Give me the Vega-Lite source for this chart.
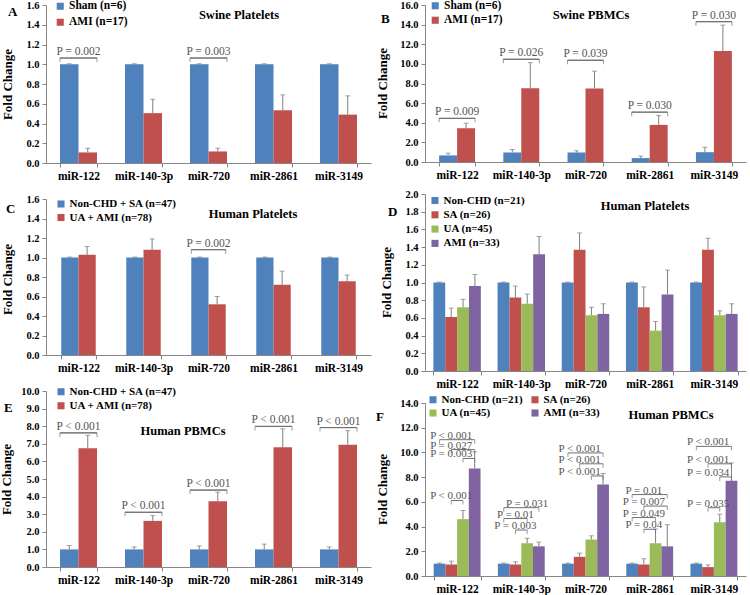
{
  "$schema": "https://vega.github.io/schema/vega-lite/v6.json",
  "padding": {"left": 0, "top": 0, "right": 2, "bottom": 0},
  "autosize": {"type": "pad"},
  "spacing": 5,
  "bounds": "full",
  "resolve": {"scale": {"color": "independent", "xOffset": "independent", "x": "independent", "y": "independent"}, "legend": {"color": "independent"}},
  "datasets": {
    "A": [
      {"cat": "miR-122", "grp": "Sham (n=6)", "v": 1.0, "u": 1.005}, {"cat": "miR-122", "grp": "AMI (n=17)", "v": 0.107, "u": 0.15},
      {"cat": "miR-140-3p", "grp": "Sham (n=6)", "v": 1.0, "u": 1.005}, {"cat": "miR-140-3p", "grp": "AMI (n=17)", "v": 0.505, "u": 0.645},
      {"cat": "miR-720", "grp": "Sham (n=6)", "v": 1.0, "u": 1.005}, {"cat": "miR-720", "grp": "AMI (n=17)", "v": 0.117, "u": 0.15},
      {"cat": "miR-2861", "grp": "Sham (n=6)", "v": 1.0, "u": 1.005}, {"cat": "miR-2861", "grp": "AMI (n=17)", "v": 0.535, "u": 0.69},
      {"cat": "miR-3149", "grp": "Sham (n=6)", "v": 1.0, "u": 1.005}, {"cat": "miR-3149", "grp": "AMI (n=17)", "v": 0.49, "u": 0.68}
    ],
    "Ab": [
      {"cat": "miR-122", "top": 1.063, "label": "P = 0.002"},
      {"cat": "miR-720", "top": 1.063, "label": "P = 0.003"}
    ],
    "B": [
      {"cat": "miR-122", "grp": "Sham (n=6)", "v": 0.67, "u": 0.9}, {"cat": "miR-122", "grp": "AMI (n=17)", "v": 3.44, "u": 3.95},
      {"cat": "miR-140-3p", "grp": "Sham (n=6)", "v": 0.97, "u": 1.27}, {"cat": "miR-140-3p", "grp": "AMI (n=17)", "v": 7.52, "u": 10.13},
      {"cat": "miR-720", "grp": "Sham (n=6)", "v": 0.97, "u": 1.14}, {"cat": "miR-720", "grp": "AMI (n=17)", "v": 7.49, "u": 9.26},
      {"cat": "miR-2861", "grp": "Sham (n=6)", "v": 0.4, "u": 0.6}, {"cat": "miR-2861", "grp": "AMI (n=17)", "v": 3.78, "u": 4.75},
      {"cat": "miR-3149", "grp": "Sham (n=6)", "v": 1.0, "u": 1.5}, {"cat": "miR-3149", "grp": "AMI (n=17)", "v": 11.3, "u": 13.95}
    ],
    "Bb": [
      {"cat": "miR-122", "top": 4.45, "label": "P = 0.009"},
      {"cat": "miR-140-3p", "top": 10.47, "label": "P = 0.026"},
      {"cat": "miR-720", "top": 10.37, "label": "P = 0.039"},
      {"cat": "miR-2861", "top": 5.08, "label": "P = 0.030"},
      {"cat": "miR-3149", "top": 14.3, "label": "P = 0.030"}
    ],
    "C": [
      {"cat": "miR-122", "grp": "Non-CHD + SA (n=47)", "v": 1.0, "u": 1.005}, {"cat": "miR-122", "grp": "UA + AMI (n=78)", "v": 1.027, "u": 1.113},
      {"cat": "miR-140-3p", "grp": "Non-CHD + SA (n=47)", "v": 1.0, "u": 1.005}, {"cat": "miR-140-3p", "grp": "UA + AMI (n=78)", "v": 1.079, "u": 1.19},
      {"cat": "miR-720", "grp": "Non-CHD + SA (n=47)", "v": 1.0, "u": 1.005}, {"cat": "miR-720", "grp": "UA + AMI (n=78)", "v": 0.52, "u": 0.6},
      {"cat": "miR-2861", "grp": "Non-CHD + SA (n=47)", "v": 1.0, "u": 1.005}, {"cat": "miR-2861", "grp": "UA + AMI (n=78)", "v": 0.72, "u": 0.86},
      {"cat": "miR-3149", "grp": "Non-CHD + SA (n=47)", "v": 1.0, "u": 1.005}, {"cat": "miR-3149", "grp": "UA + AMI (n=78)", "v": 0.756, "u": 0.82}
    ],
    "Cb": [
      {"cat": "miR-720", "top": 1.08, "label": "P = 0.002"}
    ],
    "D": [
      {"cat": "miR-122", "grp": "Non-CHD (n=21)", "v": 1.0, "u": 1.005}, {"cat": "miR-122", "grp": "SA (n=26)", "v": 0.61, "u": 0.71}, {"cat": "miR-122", "grp": "UA (n=45)", "v": 0.72, "u": 0.81}, {"cat": "miR-122", "grp": "AMI (n=33)", "v": 0.96, "u": 1.09},
      {"cat": "miR-140-3p", "grp": "Non-CHD (n=21)", "v": 1.0, "u": 1.005}, {"cat": "miR-140-3p", "grp": "SA (n=26)", "v": 0.83, "u": 0.96}, {"cat": "miR-140-3p", "grp": "UA (n=45)", "v": 0.76, "u": 0.87}, {"cat": "miR-140-3p", "grp": "AMI (n=33)", "v": 1.32, "u": 1.52},
      {"cat": "miR-720", "grp": "Non-CHD (n=21)", "v": 1.0, "u": 1.005}, {"cat": "miR-720", "grp": "SA (n=26)", "v": 1.37, "u": 1.56}, {"cat": "miR-720", "grp": "UA (n=45)", "v": 0.63, "u": 0.72}, {"cat": "miR-720", "grp": "AMI (n=33)", "v": 0.645, "u": 0.76},
      {"cat": "miR-2861", "grp": "Non-CHD (n=21)", "v": 1.0, "u": 1.005}, {"cat": "miR-2861", "grp": "SA (n=26)", "v": 0.72, "u": 0.95}, {"cat": "miR-2861", "grp": "UA (n=45)", "v": 0.456, "u": 0.56}, {"cat": "miR-2861", "grp": "AMI (n=33)", "v": 0.864, "u": 1.14},
      {"cat": "miR-3149", "grp": "Non-CHD (n=21)", "v": 1.0, "u": 1.005}, {"cat": "miR-3149", "grp": "SA (n=26)", "v": 1.37, "u": 1.5}, {"cat": "miR-3149", "grp": "UA (n=45)", "v": 0.63, "u": 0.68}, {"cat": "miR-3149", "grp": "AMI (n=33)", "v": 0.645, "u": 0.76}
    ],
    "E": [
      {"cat": "miR-122", "grp": "Non-CHD + SA (n=47)", "v": 1.0, "u": 1.22}, {"cat": "miR-122", "grp": "UA + AMI (n=78)", "v": 6.75, "u": 7.48},
      {"cat": "miR-140-3p", "grp": "Non-CHD + SA (n=47)", "v": 1.0, "u": 1.14}, {"cat": "miR-140-3p", "grp": "UA + AMI (n=78)", "v": 2.62, "u": 2.92},
      {"cat": "miR-720", "grp": "Non-CHD + SA (n=47)", "v": 1.0, "u": 1.2}, {"cat": "miR-720", "grp": "UA + AMI (n=78)", "v": 3.73, "u": 4.25},
      {"cat": "miR-2861", "grp": "Non-CHD + SA (n=47)", "v": 1.0, "u": 1.3}, {"cat": "miR-2861", "grp": "UA + AMI (n=78)", "v": 6.8, "u": 7.85},
      {"cat": "miR-3149", "grp": "Non-CHD + SA (n=47)", "v": 1.0, "u": 1.14}, {"cat": "miR-3149", "grp": "UA + AMI (n=78)", "v": 6.95, "u": 7.75}
    ],
    "Eb": [
      {"cat": "miR-122", "top": 7.62, "label": "P < 0.001"},
      {"cat": "miR-140-3p", "top": 3.11, "label": "P < 0.001"},
      {"cat": "miR-720", "top": 4.37, "label": "P < 0.001"},
      {"cat": "miR-2861", "top": 7.99, "label": "P < 0.001"},
      {"cat": "miR-3149", "top": 7.92, "label": "P < 0.001"}
    ],
    "F": [
      {"cat": "miR-122", "grp": "Non-CHD (n=21)", "v": 1.0, "u": 1.05}, {"cat": "miR-122", "grp": "SA (n=26)", "v": 0.93, "u": 1.2}, {"cat": "miR-122", "grp": "UA (n=45)", "v": 4.6, "u": 5.3}, {"cat": "miR-122", "grp": "AMI (n=33)", "v": 8.7, "u": 10.05},
      {"cat": "miR-140-3p", "grp": "Non-CHD (n=21)", "v": 1.0, "u": 1.05}, {"cat": "miR-140-3p", "grp": "SA (n=26)", "v": 0.93, "u": 1.15}, {"cat": "miR-140-3p", "grp": "UA (n=45)", "v": 2.65, "u": 3.05}, {"cat": "miR-140-3p", "grp": "AMI (n=33)", "v": 2.4, "u": 2.75},
      {"cat": "miR-720", "grp": "Non-CHD (n=21)", "v": 1.0, "u": 1.05}, {"cat": "miR-720", "grp": "SA (n=26)", "v": 1.55, "u": 1.85}, {"cat": "miR-720", "grp": "UA (n=45)", "v": 2.95, "u": 3.25}, {"cat": "miR-720", "grp": "AMI (n=33)", "v": 7.4, "u": 8.3},
      {"cat": "miR-2861", "grp": "Non-CHD (n=21)", "v": 1.0, "u": 1.05}, {"cat": "miR-2861", "grp": "SA (n=26)", "v": 0.93, "u": 1.4}, {"cat": "miR-2861", "grp": "UA (n=45)", "v": 2.65, "u": 3.8}, {"cat": "miR-2861", "grp": "AMI (n=33)", "v": 2.4, "u": 4.15},
      {"cat": "miR-3149", "grp": "Non-CHD (n=21)", "v": 1.0, "u": 1.05}, {"cat": "miR-3149", "grp": "SA (n=26)", "v": 0.72, "u": 0.9}, {"cat": "miR-3149", "grp": "UA (n=45)", "v": 4.35, "u": 5.0}, {"cat": "miR-3149", "grp": "AMI (n=33)", "v": 7.7, "u": 9.15}
    ],
    "Fb": [
      {"id": 1, "cat": "miR-122", "g1": "Non-CHD (n=21)", "g2": "AMI (n=33)", "top": 11.03, "label": "P < 0.001", "lg": "SA (n=26)"},
      {"id": 2, "cat": "miR-122", "g1": "SA (n=26)", "g2": "AMI (n=33)", "top": 10.23, "label": "P = 0.027", "lg": "SA (n=26)"},
      {"id": 3, "cat": "miR-122", "g1": "UA (n=45)", "g2": "AMI (n=33)", "top": 9.51, "label": "P = 0.003", "lg": "SA (n=26)"},
      {"id": 4, "cat": "miR-122", "g1": "SA (n=26)", "g2": "UA (n=45)", "top": 6.11, "label": "P < 0.001", "lg": "SA (n=26)"},
      {"id": 5, "cat": "miR-140-3p", "g1": "Non-CHD (n=21)", "g2": "AMI (n=33)", "top": 5.53, "label": "P = 0.031", "lg": "UA (n=45)"},
      {"id": 6, "cat": "miR-140-3p", "g1": "Non-CHD (n=21)", "g2": "UA (n=45)", "top": 4.65, "label": "P = 0.01", "lg": "SA (n=26)"},
      {"id": 7, "cat": "miR-140-3p", "g1": "SA (n=26)", "g2": "UA (n=45)", "top": 3.72, "label": "P = 0.003", "lg": "SA (n=26)"},
      {"id": 8, "cat": "miR-720", "g1": "Non-CHD (n=21)", "g2": "AMI (n=33)", "top": 9.96, "label": "P < 0.001", "lg": "SA (n=26)"},
      {"id": 9, "cat": "miR-720", "g1": "SA (n=26)", "g2": "AMI (n=33)", "top": 9.08, "label": "P < 0.001", "lg": "SA (n=26)"},
      {"id": 10, "cat": "miR-720", "g1": "UA (n=45)", "g2": "AMI (n=33)", "top": 8.1, "label": "P < 0.001", "lg": "SA (n=26)"},
      {"id": 11, "cat": "miR-2861", "g1": "Non-CHD (n=21)", "g2": "AMI (n=33)", "top": 6.59, "label": "P = 0.01", "lg": "SA (n=26)"},
      {"id": 12, "cat": "miR-2861", "g1": "SA (n=26)", "g2": "AMI (n=33)", "top": 5.66, "label": "P = 0.007", "lg": "SA (n=26)"},
      {"id": 13, "cat": "miR-2861", "g1": "Non-CHD (n=21)", "g2": "UA (n=45)", "top": 4.73, "label": "P = 0.049", "lg": "SA (n=26)"},
      {"id": 14, "cat": "miR-2861", "g1": "SA (n=26)", "g2": "UA (n=45)", "top": 3.78, "label": "P = 0.04", "lg": "SA (n=26)"},
      {"id": 15, "cat": "miR-3149", "g1": "Non-CHD (n=21)", "g2": "AMI (n=33)", "top": 10.49, "label": "P < 0.001", "lg": "SA (n=26)"},
      {"id": 16, "cat": "miR-3149", "g1": "SA (n=26)", "g2": "AMI (n=33)", "top": 9.08, "label": "P < 0.001", "lg": "SA (n=26)"},
      {"id": 17, "cat": "miR-3149", "g1": "UA (n=45)", "g2": "AMI (n=33)", "top": 8.02, "label": "P = 0.034", "lg": "SA (n=26)"},
      {"id": 18, "cat": "miR-3149", "g1": "SA (n=26)", "g2": "UA (n=45)", "top": 5.53, "label": "P = 0.035", "lg": "SA (n=26)"}
    ]
  },
  "hconcat": [
    {
      "spacing": 36,
      "bounds": "flush",
      "resolve": {"scale": {"color": "independent", "xOffset": "independent", "x": "independent", "y": "independent"}, "legend": {"color": "independent"}},
      "vconcat": [
        {
          "width": 325, "height": 158,
          "title": {"text": "A", "dx": -38, "dy": 22.5},
          "encoding": {"x": {"field": "cat", "type": "nominal", "title": null, "scale": {"domain": ["miR-122", "miR-140-3p", "miR-720", "miR-2861", "miR-3149"], "paddingInner": 0.43, "paddingOuter": 0.215}, "axis": {"tickBand": "extent"}}},
          "layer": [
            {"data": {"name": "A"}, "mark": {"type": "bar"}, "encoding": {
              "xOffset": {"field": "grp", "type": "nominal", "scale": {"domain": ["Sham (n=6)", "AMI (n=17)"]}},
              "y": {"field": "v", "type": "quantitative", "stack": null, "scale": {"domain": [0, 1.6], "nice": false}, "axis": {"title": "Fold Change", "titleX": -32, "titleY": 79, "values": [0, 0.2, 0.4, 0.6, 0.8, 1.0, 1.2, 1.4, 1.6], "format": ".1f", "labelOverlap": false, "tickCount": 9}},
              "color": {"field": "grp", "type": "nominal", "scale": {"domain": ["Sham (n=6)", "AMI (n=17)"], "range": ["#4F81BD", "#C0504D"]}, "legend": {"title": null, "legendX": 8.5, "legendY": -4.5, "rowPadding": 3}}}},
            {"data": {"name": "A"}, "mark": {"type": "rule", "color": "#7f7f7f"}, "encoding": {
              "xOffset": {"field": "grp", "type": "nominal", "scale": {"domain": ["Sham (n=6)", "AMI (n=17)"]}},
              "y": {"field": "v", "type": "quantitative"}, "y2": {"field": "u"}}},
            {"data": {"name": "A"}, "mark": {"type": "tick", "orient": "horizontal", "size": 5, "thickness": 1, "color": "#7f7f7f"}, "encoding": {
              "xOffset": {"field": "grp", "type": "nominal", "scale": {"domain": ["Sham (n=6)", "AMI (n=17)"]}},
              "y": {"field": "u", "type": "quantitative"}}},
            {"data": {"name": "Ab"}, "mark": {"type": "bar", "fill": null, "stroke": "#707070", "strokeWidth": 1}, "encoding": {
              "y": {"field": "top", "type": "quantitative"}, "y2": {"field": "top"}}},
            {"data": {"name": "Ab"}, "mark": {"type": "tick", "orient": "vertical", "size": 4, "thickness": 1, "yOffset": 2, "color": "#707070"}, "encoding": {
              "x": {"field": "cat", "type": "nominal", "bandPosition": 0, "scale": {"domain": ["miR-122", "miR-140-3p", "miR-720", "miR-2861", "miR-3149"]}},
              "y": {"field": "top", "type": "quantitative"}}},
            {"data": {"name": "Ab"}, "mark": {"type": "tick", "orient": "vertical", "size": 4, "thickness": 1, "yOffset": 2, "color": "#707070"}, "encoding": {
              "x": {"field": "cat", "type": "nominal", "bandPosition": 1, "scale": {"domain": ["miR-122", "miR-140-3p", "miR-720", "miR-2861", "miR-3149"]}},
              "y": {"field": "top", "type": "quantitative"}}},
            {"data": {"name": "Ab"}, "mark": {"type": "text", "dy": -3, "baseline": "alphabetic", "fontSize": 11.5, "color": "#555555", "font": "Liberation Serif"}, "encoding": {
              "y": {"field": "top", "type": "quantitative"}, "text": {"field": "label"}}},
            {"data": {"values": [{"t": "Swine Platelets"}]}, "mark": {"type": "text", "dx": 30.5, "baseline": "middle", "fontSize": 12.5, "fontWeight": "bold", "font": "Liberation Serif", "color": "#000"}, "encoding": {
              "x": {"datum": "miR-720", "type": "nominal"}, "y": {"datum": 1.5, "type": "quantitative"}, "text": {"field": "t"}}}
          ]
        },
        {
          "width": 325, "height": 156,
          "title": {"text": "C", "dx": -40, "dy": 26},
          "encoding": {"x": {"field": "cat", "type": "nominal", "title": null, "scale": {"domain": ["miR-122", "miR-140-3p", "miR-720", "miR-2861", "miR-3149"], "paddingInner": 0.47, "paddingOuter": 0.235}, "axis": {"tickBand": "extent"}}},
          "layer": [
            {"data": {"name": "C"}, "mark": {"type": "bar"}, "encoding": {
              "xOffset": {"field": "grp", "type": "nominal", "scale": {"domain": ["Non-CHD + SA (n=47)", "UA + AMI (n=78)"]}},
              "y": {"field": "v", "type": "quantitative", "stack": null, "scale": {"domain": [0, 1.6], "nice": false}, "axis": {"title": "Fold Change", "titleX": -32, "titleY": 80, "values": [0, 0.2, 0.4, 0.6, 0.8, 1.0, 1.2, 1.4, 1.6], "format": ".1f", "labelOverlap": false, "tickCount": 9}},
              "color": {"field": "grp", "type": "nominal", "scale": {"domain": ["Non-CHD + SA (n=47)", "UA + AMI (n=78)"], "range": ["#4F81BD", "#C0504D"]}, "legend": {"title": null, "legendX": 9.5, "legendY": -0.5, "rowPadding": 1.5, "labelFontSize": 11}}}},
            {"data": {"name": "C"}, "mark": {"type": "rule", "color": "#7f7f7f"}, "encoding": {
              "xOffset": {"field": "grp", "type": "nominal", "scale": {"domain": ["Non-CHD + SA (n=47)", "UA + AMI (n=78)"]}},
              "y": {"field": "v", "type": "quantitative"}, "y2": {"field": "u"}}},
            {"data": {"name": "C"}, "mark": {"type": "tick", "orient": "horizontal", "size": 5, "thickness": 1, "color": "#7f7f7f"}, "encoding": {
              "xOffset": {"field": "grp", "type": "nominal", "scale": {"domain": ["Non-CHD + SA (n=47)", "UA + AMI (n=78)"]}},
              "y": {"field": "u", "type": "quantitative"}}},
            {"data": {"name": "Cb"}, "mark": {"type": "bar", "fill": null, "stroke": "#707070", "strokeWidth": 1}, "encoding": {
              "y": {"field": "top", "type": "quantitative"}, "y2": {"field": "top"}}},
            {"data": {"name": "Cb"}, "mark": {"type": "tick", "orient": "vertical", "size": 4, "thickness": 1, "yOffset": 2, "color": "#707070"}, "encoding": {
              "x": {"field": "cat", "type": "nominal", "bandPosition": 0, "scale": {"domain": ["miR-122", "miR-140-3p", "miR-720", "miR-2861", "miR-3149"]}},
              "y": {"field": "top", "type": "quantitative"}}},
            {"data": {"name": "Cb"}, "mark": {"type": "tick", "orient": "vertical", "size": 4, "thickness": 1, "yOffset": 2, "color": "#707070"}, "encoding": {
              "x": {"field": "cat", "type": "nominal", "bandPosition": 1, "scale": {"domain": ["miR-122", "miR-140-3p", "miR-720", "miR-2861", "miR-3149"]}},
              "y": {"field": "top", "type": "quantitative"}}},
            {"data": {"name": "Cb"}, "mark": {"type": "text", "dy": -3, "baseline": "alphabetic", "fontSize": 11.5, "color": "#555555", "font": "Liberation Serif"}, "encoding": {
              "y": {"field": "top", "type": "quantitative"}, "text": {"field": "label"}}},
            {"data": {"values": [{"t": "Human Platelets"}]}, "mark": {"type": "text", "dx": 44.5, "baseline": "middle", "fontSize": 12.5, "fontWeight": "bold", "font": "Liberation Serif", "color": "#000"}, "encoding": {
              "x": {"datum": "miR-720", "type": "nominal"}, "y": {"datum": 1.45, "type": "quantitative"}, "text": {"field": "t"}}}
          ]
        },
        {
          "width": 325, "height": 176,
          "title": {"text": "E", "dx": -42, "dy": 33},
          "encoding": {"x": {"field": "cat", "type": "nominal", "title": null, "scale": {"domain": ["miR-122", "miR-140-3p", "miR-720", "miR-2861", "miR-3149"], "paddingInner": 0.43, "paddingOuter": 0.215}, "axis": {"tickBand": "extent"}}},
          "layer": [
            {"data": {"name": "E"}, "mark": {"type": "bar"}, "encoding": {
              "xOffset": {"field": "grp", "type": "nominal", "scale": {"domain": ["Non-CHD + SA (n=47)", "UA + AMI (n=78)"]}},
              "y": {"field": "v", "type": "quantitative", "stack": null, "scale": {"domain": [0, 10], "nice": false}, "axis": {"title": "Fold Change", "titleX": -33, "titleY": 88, "values": [0, 1, 2, 3, 4, 5, 6, 7, 8, 9, 10], "format": ".1f", "labelOverlap": false, "tickCount": 11}},
              "color": {"field": "grp", "type": "nominal", "scale": {"domain": ["Non-CHD + SA (n=47)", "UA + AMI (n=78)"], "range": ["#4F81BD", "#C0504D"]}, "legend": {"title": null, "legendX": 9.5, "legendY": -4.75, "rowPadding": 2, "labelFontSize": 11}}}},
            {"data": {"name": "E"}, "mark": {"type": "rule", "color": "#7f7f7f"}, "encoding": {
              "xOffset": {"field": "grp", "type": "nominal", "scale": {"domain": ["Non-CHD + SA (n=47)", "UA + AMI (n=78)"]}},
              "y": {"field": "v", "type": "quantitative"}, "y2": {"field": "u"}}},
            {"data": {"name": "E"}, "mark": {"type": "tick", "orient": "horizontal", "size": 5, "thickness": 1, "color": "#7f7f7f"}, "encoding": {
              "xOffset": {"field": "grp", "type": "nominal", "scale": {"domain": ["Non-CHD + SA (n=47)", "UA + AMI (n=78)"]}},
              "y": {"field": "u", "type": "quantitative"}}},
            {"data": {"name": "Eb"}, "mark": {"type": "bar", "fill": null, "stroke": "#707070", "strokeWidth": 1}, "encoding": {
              "y": {"field": "top", "type": "quantitative"}, "y2": {"field": "top"}}},
            {"data": {"name": "Eb"}, "mark": {"type": "tick", "orient": "vertical", "size": 4, "thickness": 1, "yOffset": 2, "color": "#707070"}, "encoding": {
              "x": {"field": "cat", "type": "nominal", "bandPosition": 0, "scale": {"domain": ["miR-122", "miR-140-3p", "miR-720", "miR-2861", "miR-3149"]}},
              "y": {"field": "top", "type": "quantitative"}}},
            {"data": {"name": "Eb"}, "mark": {"type": "tick", "orient": "vertical", "size": 4, "thickness": 1, "yOffset": 2, "color": "#707070"}, "encoding": {
              "x": {"field": "cat", "type": "nominal", "bandPosition": 1, "scale": {"domain": ["miR-122", "miR-140-3p", "miR-720", "miR-2861", "miR-3149"]}},
              "y": {"field": "top", "type": "quantitative"}}},
            {"data": {"name": "Eb"}, "mark": {"type": "text", "dy": -3, "baseline": "alphabetic", "fontSize": 11.5, "color": "#555555", "font": "Liberation Serif"}, "encoding": {
              "y": {"field": "top", "type": "quantitative"}, "text": {"field": "label"}}},
            {"data": {"values": [{"t": "Human PBMCs"}]}, "mark": {"type": "text", "dx": -25.5, "baseline": "middle", "fontSize": 12.5, "fontWeight": "bold", "font": "Liberation Serif", "color": "#000"}, "encoding": {
              "x": {"datum": "miR-720", "type": "nominal"}, "y": {"datum": 7.73, "type": "quantitative"}, "text": {"field": "t"}}}
          ]
        }
      ]
    },
    {
      "spacing": 32,
      "bounds": "flush",
      "resolve": {"scale": {"color": "independent", "xOffset": "independent", "x": "independent", "y": "independent"}, "legend": {"color": "independent"}},
      "vconcat": [
        {
          "width": 321, "height": 157,
          "title": {"text": "B", "dx": -44, "dy": 29.5},
          "encoding": {"x": {"field": "cat", "type": "nominal", "title": null, "scale": {"domain": ["miR-122", "miR-140-3p", "miR-720", "miR-2861", "miR-3149"], "paddingInner": 0.44, "paddingOuter": 0.22}, "axis": {"tickBand": "extent"}}},
          "layer": [
            {"data": {"name": "B"}, "mark": {"type": "bar"}, "encoding": {
              "xOffset": {"field": "grp", "type": "nominal", "scale": {"domain": ["Sham (n=6)", "AMI (n=17)"]}},
              "y": {"field": "v", "type": "quantitative", "stack": null, "scale": {"domain": [0, 16], "nice": false}, "axis": {"title": "Fold Change", "titleX": -36, "titleY": 78, "values": [0, 2, 4, 6, 8, 10, 12, 14, 16], "format": ".1f", "labelOverlap": false, "tickCount": 9}},
              "color": {"field": "grp", "type": "nominal", "scale": {"domain": ["Sham (n=6)", "AMI (n=17)"], "range": ["#4F81BD", "#C0504D"]}, "legend": {"title": null, "legendX": 4.5, "legendY": -5, "rowPadding": 1.5}}}},
            {"data": {"name": "B"}, "mark": {"type": "rule", "color": "#7f7f7f"}, "encoding": {
              "xOffset": {"field": "grp", "type": "nominal", "scale": {"domain": ["Sham (n=6)", "AMI (n=17)"]}},
              "y": {"field": "v", "type": "quantitative"}, "y2": {"field": "u"}}},
            {"data": {"name": "B"}, "mark": {"type": "tick", "orient": "horizontal", "size": 5, "thickness": 1, "color": "#7f7f7f"}, "encoding": {
              "xOffset": {"field": "grp", "type": "nominal", "scale": {"domain": ["Sham (n=6)", "AMI (n=17)"]}},
              "y": {"field": "u", "type": "quantitative"}}},
            {"data": {"name": "Bb"}, "mark": {"type": "bar", "fill": null, "stroke": "#707070", "strokeWidth": 1}, "encoding": {
              "y": {"field": "top", "type": "quantitative"}, "y2": {"field": "top"}}},
            {"data": {"name": "Bb"}, "mark": {"type": "tick", "orient": "vertical", "size": 4, "thickness": 1, "yOffset": 2, "color": "#707070"}, "encoding": {
              "x": {"field": "cat", "type": "nominal", "bandPosition": 0, "scale": {"domain": ["miR-122", "miR-140-3p", "miR-720", "miR-2861", "miR-3149"]}},
              "y": {"field": "top", "type": "quantitative"}}},
            {"data": {"name": "Bb"}, "mark": {"type": "tick", "orient": "vertical", "size": 4, "thickness": 1, "yOffset": 2, "color": "#707070"}, "encoding": {
              "x": {"field": "cat", "type": "nominal", "bandPosition": 1, "scale": {"domain": ["miR-122", "miR-140-3p", "miR-720", "miR-2861", "miR-3149"]}},
              "y": {"field": "top", "type": "quantitative"}}},
            {"data": {"name": "Bb"}, "mark": {"type": "text", "dy": -3, "baseline": "alphabetic", "fontSize": 11.5, "color": "#555555", "font": "Liberation Serif"}, "encoding": {
              "y": {"field": "top", "type": "quantitative"}, "text": {"field": "label"}}},
            {"data": {"values": [{"t": "Swine PBMCs"}]}, "mark": {"type": "text", "dx": 5.5, "baseline": "middle", "fontSize": 12.5, "fontWeight": "bold", "font": "Liberation Serif", "color": "#000"}, "encoding": {
              "x": {"datum": "miR-720", "type": "nominal"}, "y": {"datum": 14.98, "type": "quantitative"}, "text": {"field": "t"}}}
          ]
        },
        {
          "width": 321, "height": 177,
          "title": {"text": "D", "dx": -37, "dy": 34},
          "encoding": {"x": {"field": "cat", "type": "nominal", "title": null, "scale": {"domain": ["miR-122", "miR-140-3p", "miR-720", "miR-2861", "miR-3149"], "paddingInner": 0.26, "paddingOuter": 0.13}, "axis": {"tickBand": "extent"}}},
          "layer": [
            {"data": {"name": "D"}, "mark": {"type": "bar"}, "encoding": {
              "xOffset": {"field": "grp", "type": "nominal", "scale": {"domain": ["Non-CHD (n=21)", "SA (n=26)", "UA (n=45)", "AMI (n=33)"]}},
              "y": {"field": "v", "type": "quantitative", "stack": null, "scale": {"domain": [0, 2.0], "nice": false}, "axis": {"title": "Fold Change", "titleX": -32, "titleY": 88, "values": [0, 0.2, 0.4, 0.6, 0.8, 1.0, 1.2, 1.4, 1.6, 1.8, 2.0], "format": ".1f", "labelOverlap": false, "tickCount": 11}},
              "color": {"field": "grp", "type": "nominal", "scale": {"domain": ["Non-CHD (n=21)", "SA (n=26)", "UA (n=45)", "AMI (n=33)"], "range": ["#4F81BD", "#C0504D", "#9BBB59", "#8064A2"]}, "legend": {"title": null, "legendX": 4.5, "legendY": 1, "rowPadding": 2.3, "labelFontSize": 11}}}},
            {"data": {"name": "D"}, "mark": {"type": "rule", "color": "#7f7f7f"}, "encoding": {
              "xOffset": {"field": "grp", "type": "nominal", "scale": {"domain": ["Non-CHD (n=21)", "SA (n=26)", "UA (n=45)", "AMI (n=33)"]}},
              "y": {"field": "v", "type": "quantitative"}, "y2": {"field": "u"}}},
            {"data": {"name": "D"}, "mark": {"type": "tick", "orient": "horizontal", "size": 5, "thickness": 1, "color": "#7f7f7f"}, "encoding": {
              "xOffset": {"field": "grp", "type": "nominal", "scale": {"domain": ["Non-CHD (n=21)", "SA (n=26)", "UA (n=45)", "AMI (n=33)"]}},
              "y": {"field": "u", "type": "quantitative"}}},
            {"data": {"values": [{"t": "Human Platelets"}]}, "mark": {"type": "text", "dx": -4.7, "baseline": "middle", "fontSize": 12.5, "fontWeight": "bold", "font": "Liberation Serif", "color": "#000"}, "encoding": {
              "x": {"datum": "miR-2861", "type": "nominal"}, "y": {"datum": 1.86, "type": "quantitative"}, "text": {"field": "t"}}}
          ]
        },
        {
          "width": 321, "height": 173,
          "title": {"text": "F", "dx": -49, "dy": 33.5},
          "encoding": {"x": {"field": "cat", "type": "nominal", "title": null, "scale": {"domain": ["miR-122", "miR-140-3p", "miR-720", "miR-2861", "miR-3149"], "paddingInner": 0.27, "paddingOuter": 0.135}, "axis": {"tickBand": "extent"}}},
          "layer": [
            {"data": {"name": "F"}, "mark": {"type": "bar"}, "encoding": {
              "xOffset": {"field": "grp", "type": "nominal", "scale": {"domain": ["Non-CHD (n=21)", "SA (n=26)", "UA (n=45)", "AMI (n=33)"]}},
              "y": {"field": "v", "type": "quantitative", "stack": null, "scale": {"domain": [0, 14], "nice": false}, "axis": {"title": "Fold Change", "titleX": -36, "titleY": 86, "values": [0, 2, 4, 6, 8, 10, 12, 14], "format": ".1f", "labelOverlap": false, "tickCount": 8}},
              "color": {"field": "grp", "type": "nominal", "scale": {"domain": ["Non-CHD (n=21)", "UA (n=45)", "SA (n=26)", "AMI (n=33)"], "range": ["#4F81BD", "#9BBB59", "#C0504D", "#8064A2"]}, "legend": {"title": null, "legendX": 2.5, "legendY": -9, "rowPadding": 1.5, "columns": 2, "columnPadding": 6, "labelFontSize": 11}}}},
            {"data": {"name": "F"}, "mark": {"type": "rule", "color": "#7f7f7f"}, "encoding": {
              "xOffset": {"field": "grp", "type": "nominal", "scale": {"domain": ["Non-CHD (n=21)", "SA (n=26)", "UA (n=45)", "AMI (n=33)"]}},
              "y": {"field": "v", "type": "quantitative"}, "y2": {"field": "u"}}},
            {"data": {"name": "F"}, "mark": {"type": "tick", "orient": "horizontal", "size": 5, "thickness": 1, "color": "#7f7f7f"}, "encoding": {
              "xOffset": {"field": "grp", "type": "nominal", "scale": {"domain": ["Non-CHD (n=21)", "SA (n=26)", "UA (n=45)", "AMI (n=33)"]}},
              "y": {"field": "u", "type": "quantitative"}}},
            {"data": {"name": "Fb"}, "transform": [{"fold": ["g1", "g2"], "as": ["k", "gv"]}], "mark": {"type": "line", "color": "#707070", "strokeWidth": 1}, "encoding": {
              "xOffset": {"field": "gv", "type": "nominal", "scale": {"domain": ["Non-CHD (n=21)", "SA (n=26)", "UA (n=45)", "AMI (n=33)"]}},
              "y": {"field": "top", "type": "quantitative"}, "detail": {"field": "id", "type": "nominal"}}},
            {"data": {"name": "Fb"}, "transform": [{"fold": ["g1", "g2"], "as": ["k", "gv"]}], "mark": {"type": "tick", "orient": "vertical", "size": 4, "thickness": 1, "yOffset": 2, "color": "#707070"}, "encoding": {
              "xOffset": {"field": "gv", "type": "nominal", "scale": {"domain": ["Non-CHD (n=21)", "SA (n=26)", "UA (n=45)", "AMI (n=33)"]}},
              "y": {"field": "top", "type": "quantitative"}}},
            {"data": {"name": "Fb"}, "mark": {"type": "text", "dy": -1, "baseline": "alphabetic", "fontSize": 11, "color": "#555555", "font": "Liberation Serif"}, "encoding": {
              "xOffset": {"field": "lg", "type": "nominal", "scale": {"domain": ["Non-CHD (n=21)", "SA (n=26)", "UA (n=45)", "AMI (n=33)"]}},
              "y": {"field": "top", "type": "quantitative"}, "text": {"field": "label"}}},
            {"data": {"values": [{"t": "Human PBMCs"}]}, "mark": {"type": "text", "dx": 21.3, "baseline": "middle", "fontSize": 12.5, "fontWeight": "bold", "font": "Liberation Serif", "color": "#000"}, "encoding": {
              "x": {"datum": "miR-2861", "type": "nominal"}, "y": {"datum": 13.02, "type": "quantitative"}, "text": {"field": "t"}}}
          ]
        }
      ]
    }
  ],
  "config": {
    "font": "Liberation Serif",
    "view": {"stroke": null},
    "title": {"font": "Liberation Serif", "fontSize": 13, "fontWeight": "bold", "color": "#000", "anchor": "start", "frame": "group", "orient": "top", "offset": 0, "baseline": "alphabetic"},
    "axis": {"grid": false, "domainColor": "#868686", "tickColor": "#868686", "tickSize": 4, "labelFont": "Liberation Serif", "labelFontWeight": "bold", "labelColor": "#000", "titleFont": "Liberation Serif", "titleFontWeight": "bold", "titleColor": "#000"},
    "axisX": {"labelFontSize": 11.5, "labelPadding": 3, "labelAngle": 0},
    "axisY": {"labelFontSize": 10.5, "labelPadding": 3, "titleFontSize": 13, "titlePadding": 8, "titleBaseline": "bottom", "titleAngle": -90, "titleAlign": "center", "labelOverlap": false},
    "legend": {"labelFont": "Liberation Serif", "labelFontWeight": "bold", "labelFontSize": 11.5, "labelColor": "#000", "symbolType": "square", "symbolSize": 50, "symbolStrokeWidth": 0, "labelOffset": 3, "padding": 0, "orient": "none"}
  }
}
